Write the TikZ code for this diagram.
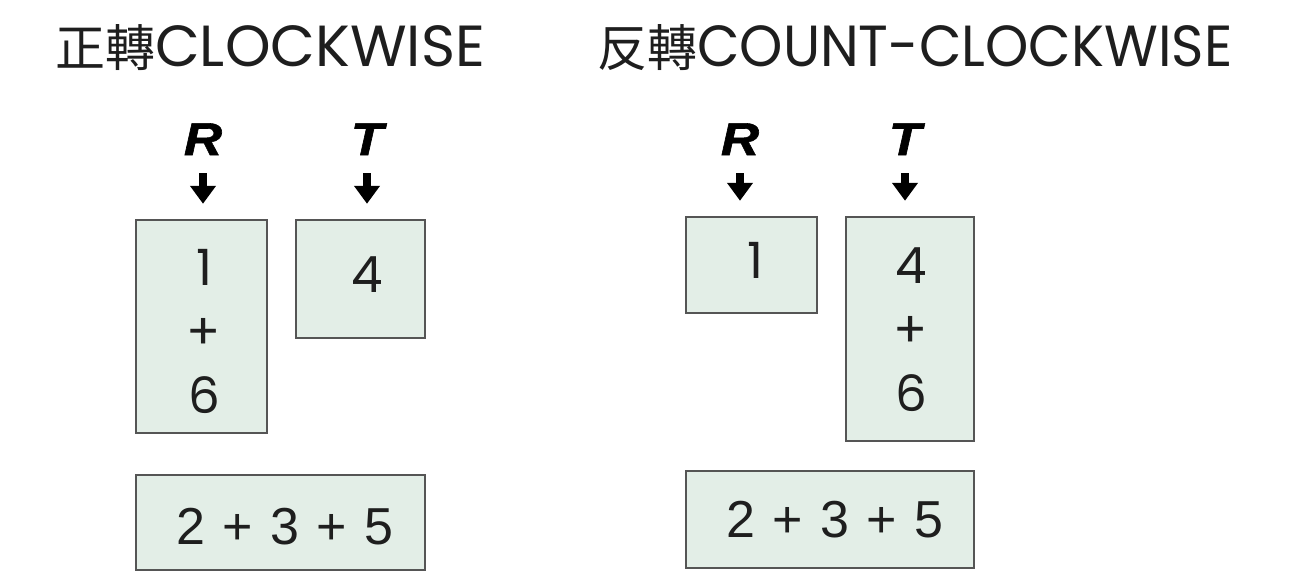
\documentclass[tikz,border=0pt]{standalone}
\usepackage{fontspec}
\setmainfont{Poppins}
\newfontfamily\cjk{Noto Sans CJK TC}
\newfontfamily\arialf{Liberation Sans}
\newfontfamily\rtf{Liberation Sans}[BoldItalicFeatures={FakeBold=1.2}]
\usetikzlibrary{arrows.meta}
\definecolor{boxfill}{RGB}{227,238,231}
\definecolor{boxline}{RGB}{85,85,85}
\definecolor{ink}{RGB}{30,30,30}
\tikzset{
  box/.style={draw=boxline, fill=boxfill, line width=2.5pt, inner sep=0pt},
  ttl/.style={anchor=base west, inner sep=0pt, text=ink, font=\fontsize{58}{58}\selectfont},
  rt/.style={inner sep=0pt, anchor=base, font=\rtf\bfseries\itshape\fontsize{46}{46}\selectfont},
  dig/.style={inner sep=0pt, text=ink, align=center, font=\fontsize{50}{64}\selectfont},
  sum/.style={inner sep=0pt, text=ink, font=\arialf\fontsize{52}{52}\selectfont},
  arr/.style={line width=7.5pt, -{Triangle[width=25pt,length=18pt]}, shorten <=18pt, shorten >=15pt}
}
\newcommand{\gp}{\hspace{17.5pt}}
\begin{document}
\begin{tikzpicture}[x=1pt,y=-1pt]
\useasboundingbox (0,0) rectangle (1305,574);
% titles
\node[ttl] (t1) at (55,66) {{\cjk\fontsize{50}{50}\selectfont 正轉}CLOCKWISE};
\node[ttl] (t2) at (597,66) {{\cjk\fontsize{50}{50}\selectfont 反轉}\scalebox{0.95}[1]{COUNT-CLOCKWISE}};
% boxes left
\node[box, minimum width=131pt, minimum height=213pt] (L1) at (201.5,326.5) {};
\node[box, minimum width=129pt, minimum height=118pt] (L2) at (360.5,279) {};
\node[box, minimum width=289pt, minimum height=95pt] (L3) at (280.5,522.5) {};
% boxes right
\node[box, minimum width=131pt, minimum height=96pt] (R1) at (751.5,265) {};
\node[box, minimum width=128pt, minimum height=224pt] (R2) at (910,329) {};
\node[box, minimum width=288pt, minimum height=97pt] (R3) at (830,519.5) {};
% contents
\node[dig] (l1t) at (204,331) {1\\+\\6};
\node[dig] (l2t) at (367,275) {4};
\node[sum] (l3t) at (285,527) {2\gp+\gp3\gp+\gp5};
\node[dig] (r1t) at (755,260) {1};
\node[dig] (r2t) at (911,330) {4\\+\\6};
\node[sum] (r3t) at (835,520) {2\gp+\gp3\gp+\gp5};
% R / T labels
\node[rt] (lR) at (203,155) {\scalebox{1.15}[1]{R}};
\node[rt] (lT) at (367,155) {\scalebox{1.15}[1]{T}};
\node[rt] (rR) at (740,155) {\scalebox{1.15}[1]{R}};
\node[rt] (rT) at (905,155) {\scalebox{1.15}[1]{T}};
% arrows
\draw[arr] (lR.base) -- (lR.base |- L1.north);
\draw[arr] (lT.base) -- (lT.base |- L2.north);
\draw[arr] (rR.base) -- (rR.base |- R1.north);
\draw[arr] (rT.base) -- (rT.base |- R2.north);
\end{tikzpicture}
\end{document}
